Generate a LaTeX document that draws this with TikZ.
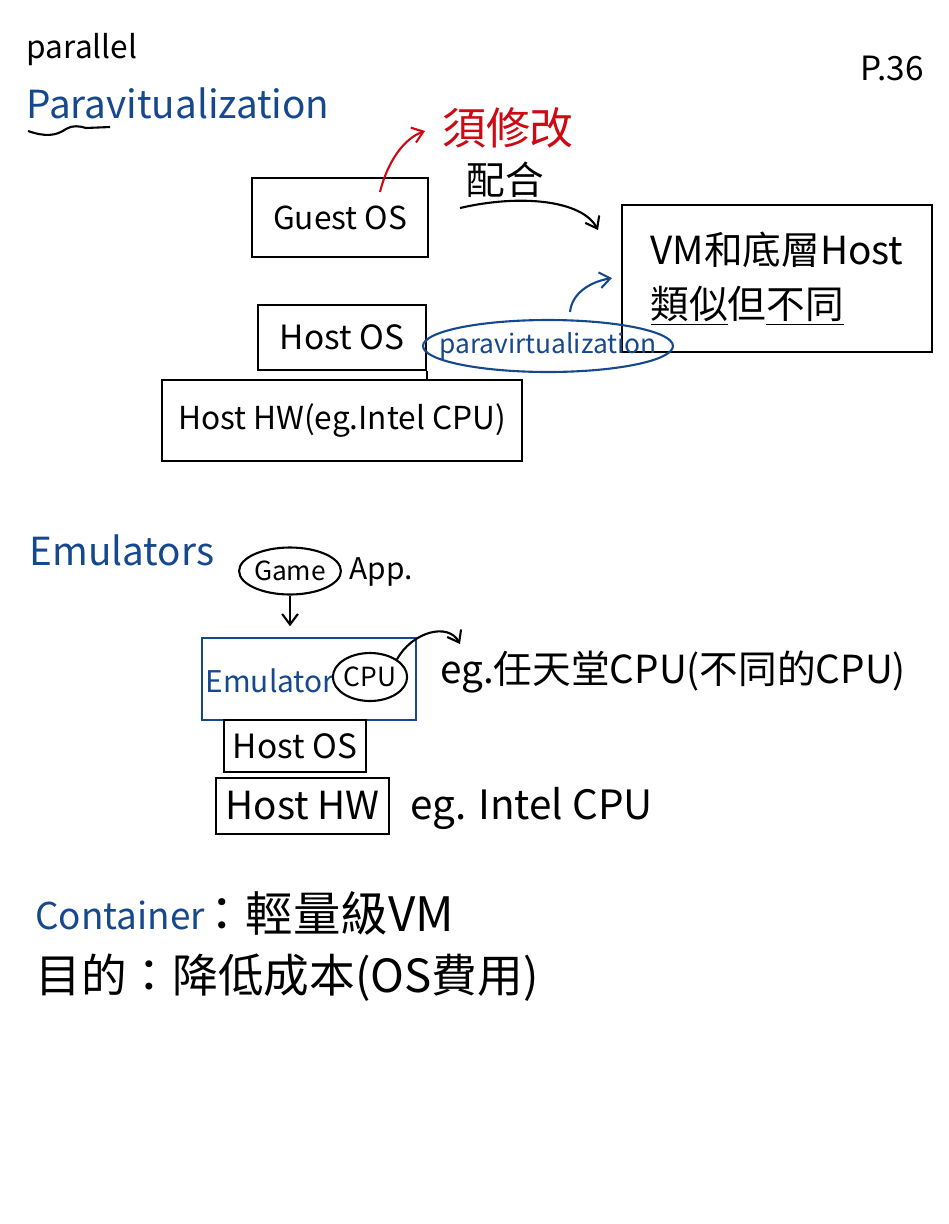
\documentclass[tikz,border=0pt]{standalone}
\usepackage{fontspec}
\setmainfont{Noto Sans CJK TC}
\usetikzlibrary{arrows.meta,shapes.geometric}
\definecolor{inkblue}{RGB}{22,72,142}
\definecolor{inkred}{RGB}{204,10,20}

\begin{document}
\begin{tikzpicture}[x=0.02cm,y=-0.02cm,
  hand/.style={font=\fontsize{#1}{#1}\selectfont,inner sep=0pt},
  box/.style={draw,line width=1.4pt,inner sep=0pt},
  oval/.style={draw,ellipse,line width=1.2pt,inner sep=0pt},
  arr/.style={line width=1.2pt,-{Straight Barb[length=6pt,width=9pt]}}
]
  \useasboundingbox (0,0) rectangle (948,1224);

  % Paravirtualization
  \node[hand=18] (parallel) at (82,50) {parallel};
  \node[hand=22,text=inkblue] (paratitle) at (178,103) {Paravitualization};
  \draw[line width=1.2pt] (28,131) .. controls (45,137) and (56,136) .. (66,129)
    .. controls (72,125) and (80,126) .. (86,128) -- (110,127);
  \node[hand=19] (page) at (892,68) {P.36};

  \node[box,minimum width=3.52cm,minimum height=1.58cm,hand=18] (guest) at (340,217.5) {Guest OS};
  \node[box,minimum width=6.2cm,minimum height=2.94cm,align=left,
        font=\fontsize{22}{31}\selectfont] (vmbox) at (777,278.5)
        {VM和底層Host\\\underline{類似}但\underline{不同}};
  \node[box,minimum width=3.36cm,minimum height=1.3cm,hand=19] (hostos) at (342,337.5) {Host OS};
  \node[box,minimum width=7.2cm,minimum height=1.62cm,hand=18] (hosthw) at (342,420.5) {Host HW(eg.Intel CPU)};
  \draw[line width=1.4pt] (hostos.south east) -- (hostos.south east |- hosthw.north);
  \node[oval,draw=inkblue,minimum width=5cm,minimum height=1.04cm] (para) at (548,346) {};
  \node[hand=15,text=inkblue] (paratext) at (para) {paravirtualization};

  \node[hand=25,text=inkred] (fix) at (508,128) {須修改};
  \node[hand=22] (peihe) at (505,180) {配合};

  \coordinate (redtail) at (380,192);
  \coordinate (redtip) at (425,131);
  \draw[arr,inkred] (redtail) .. controls (388,160) and (405,138) .. (redtip);
  \coordinate (peitail) at (460,208);
  \coordinate (peitip) at (598,230);
  \draw[arr] (peitail) .. controls (520,194) and (582,200) .. (peitip);
  \coordinate (bluetail) at (570,312);
  \coordinate (bluetip) at (612,278);
  \draw[arr,inkblue] (bluetail) .. controls (572,293) and (590,282) .. (bluetip);

  % Emulators
  \node[hand=22,text=inkblue] (emutitle) at (122,550) {Emulators};
  \node[oval,minimum width=1.94cm,minimum height=0.94cm,hand=15] (game) at (290,571) {Game};
  \node[hand=17] (app) at (381,572) {App.};

  \node[box,draw=inkblue,minimum width=4.28cm,minimum height=1.64cm] (emu) at (309,679) {};
  \node[hand=17,text=inkblue] (emutext) at (270,681) {Emulator};
  \node[oval,minimum width=1.4cm,minimum height=0.96cm,hand=15] (cpu) at (370,677) {CPU};
  \node[box,minimum width=2.84cm,minimum height=1.04cm,hand=19] (emuos) at (295,746) {Host OS};
  \node[box,minimum width=3.46cm,minimum height=1.12cm,hand=22] (emuhw) at (302.5,806) {Host HW};

  \draw[arr] (game.south) -- (game.south |- emu.north) [shorten >=6pt];
  \coordinate (cputip) at (460,644);
  \draw[arr] (cpu.north east) .. controls (412,632) and (448,622) .. (cputip);

  \node[hand=22,anchor=west] (nintendo) at (440,672) {eg.任天堂CPU(不同的CPU)};
  \node[hand=23,anchor=west] (intel) at (410,808) {eg. Intel CPU};

  % Container
  \node[hand=21,anchor=west,text=inkblue] (container) at (35,915) {Container};
  \node[hand=27,anchor=west] (light) at (198,913) {：輕量級VM};
  \node[hand=26,anchor=west] (goal) at (35,978) {目的：降低成本(OS費用)};
\end{tikzpicture}
\end{document}
